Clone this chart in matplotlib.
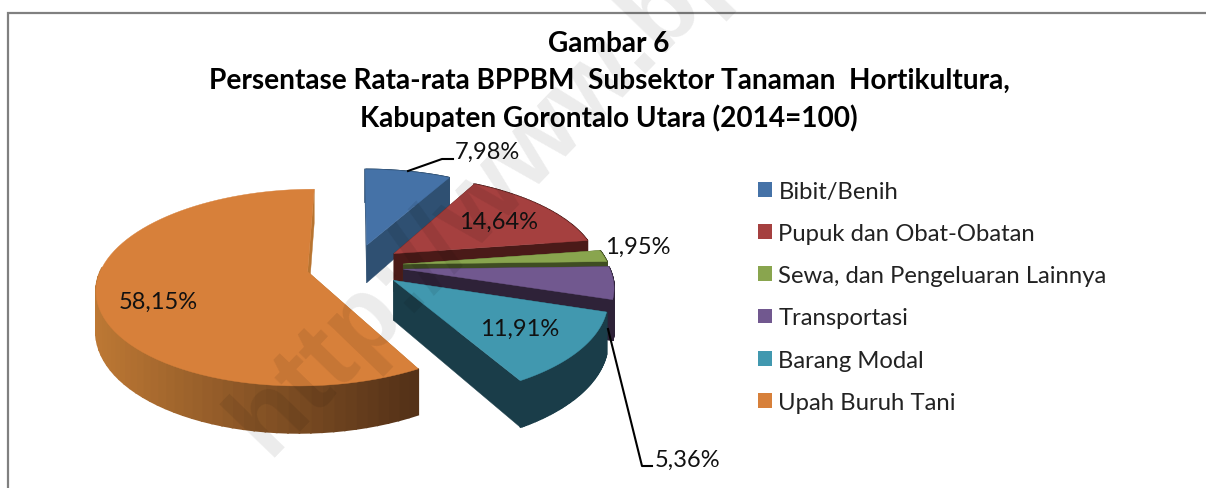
import matplotlib
matplotlib.use("Agg")
import matplotlib.pyplot as plt
import numpy as np
from matplotlib.patches import Patch

# datos del grafico
categorias = ['Bibit/Benih', 'Pupuk dan Obat-Obatan', 'Sewa, dan Pengeluaran Lainnya',
              'Transportasi', 'Barang Modal', 'Upah Buruh Tani']
valores = [7.98, 14.64, 1.95, 5.36, 11.91, 58.15]
etiquetas = ['7,98%', '14,64%', '1,95%', '5,36%', '11,91%', '58,15%']
titulo = ['Gambar 6',
          'Persentase Rata-rata BPPBM  Subsektor Tanaman  Hortikultura,',
          'Kabupaten Gorontalo Utara (2014=100)']

colores = ['#4572a7', '#a5403f', '#89a54e', '#71588f', '#4198af', '#d7803a']
oscuros = ['#2f5072', '#4a1a18', '#3f4d22', '#2e2238', '#1a3d49', '#b87430']

# geometria del pastel en pixeles de la imagen
cx, cy = 355, 267
rx, ry = 205.5, 94
persp = 0.16
explode = 0.236
prof = 39


def proyecta(u, v):
    s = 1 / (1 + persp * v)
    return cx + rx * u * s, cy - ry * v * s, prof * s


plt.rcParams['font.family'] = ['Lato', 'DejaVu Sans']
fig = plt.figure(figsize=(12.06, 4.89), dpi=100)
ax = fig.add_axes([0, 0, 1, 1])
ax.set_xlim(0, 1206)
ax.set_ylim(489, 0)
ax.axis('off')

# marco gris
ax.plot([8, 8, 1206], [489, 14, 14], color='#808080', lw=1.6, solid_joinstyle='miter')

# angulos en sentido horario desde las 12
grados = np.array(valores) / sum(valores) * 360
fin = 90 - np.cumsum(grados)
ini = fin + grados

for i in range(len(valores)):
    medio = np.radians((ini[i] + fin[i]) / 2)
    u0 = explode * np.cos(medio)
    v0 = explode * np.sin(medio)
    t = np.radians(np.linspace(ini[i], fin[i], 80))
    x, y, d = proyecta(u0 + np.cos(t), v0 + np.sin(t))
    xa, ya, da = proyecta(u0, v0)

    # caras de los cortes
    for k in [0, -1]:
        ax.fill([xa, x[k], x[k], xa], [ya, y[k], y[k] + d[k], ya + da],
                color=oscuros[i], lw=0.3, zorder=2 + i)

    # borde exterior, el naranja va con degradado
    for j in range(len(t) - 1):
        if i == 5:
            if y[j] < ya:
                continue
            f = np.clip((x[j] - 96) / (413 - 96), 0, 1)
            c = np.array([0xbd, 0x78, 0x34]) * (1 - f) + np.array([0x55, 0x32, 0x18]) * f
            c = c / 255
        else:
            c = oscuros[i]
        ax.fill([x[j], x[j + 1], x[j + 1], x[j]],
                [y[j], y[j + 1], y[j + 1] + d[j + 1], y[j] + d[j]],
                color=c, lw=1.2, zorder=2 + i)

    # cara superior
    ax.fill(np.r_[xa, x], np.r_[ya, y], color=colores[i], lw=0.3, zorder=2 + i)

# etiquetas de porcentaje
pos_etiquetas = [(487, 152), (499, 222), (638, 247), (688, 460), (520, 329), (158, 302)]
for e, p in zip(etiquetas, pos_etiquetas):
    ax.text(p[0], p[1], e, fontsize=17, color='#111111', ha='center', va='center', zorder=20)

# lineas guia
ax.plot([408, 442, 453], [172, 160, 160], color='black', lw=1.5, zorder=20)
ax.plot([608, 642, 652], [330, 467, 467], color='black', lw=1.5, zorder=20)

# titulo
for linea, yy in zip(titulo, [44, 81, 118]):
    ax.text(609, yy, linea, fontsize=20.2, fontweight='bold', color='black',
            ha='center', va='center', zorder=20)

# leyenda
handles = [Patch(facecolor=c, edgecolor='none') for c in colores]
ax.legend(handles, categorias, loc='upper left', bbox_to_anchor=(758, 182),
          bbox_transform=ax.transData, frameon=False, fontsize=17.2, borderpad=0,
          borderaxespad=0, handlelength=0.586, handleheight=0.586, handletextpad=0.27,
          labelspacing=0.885, labelcolor='#222222')

# marca de agua
ax.text(268, 458, 'http://www.bps.go.id', fontsize=76, fontweight='bold', color='black',
        alpha=0.08, rotation=46, rotation_mode='anchor', ha='left', va='baseline',
        family='Liberation Sans', zorder=30, clip_on=True)

plt.savefig('out.png', dpi=100)
